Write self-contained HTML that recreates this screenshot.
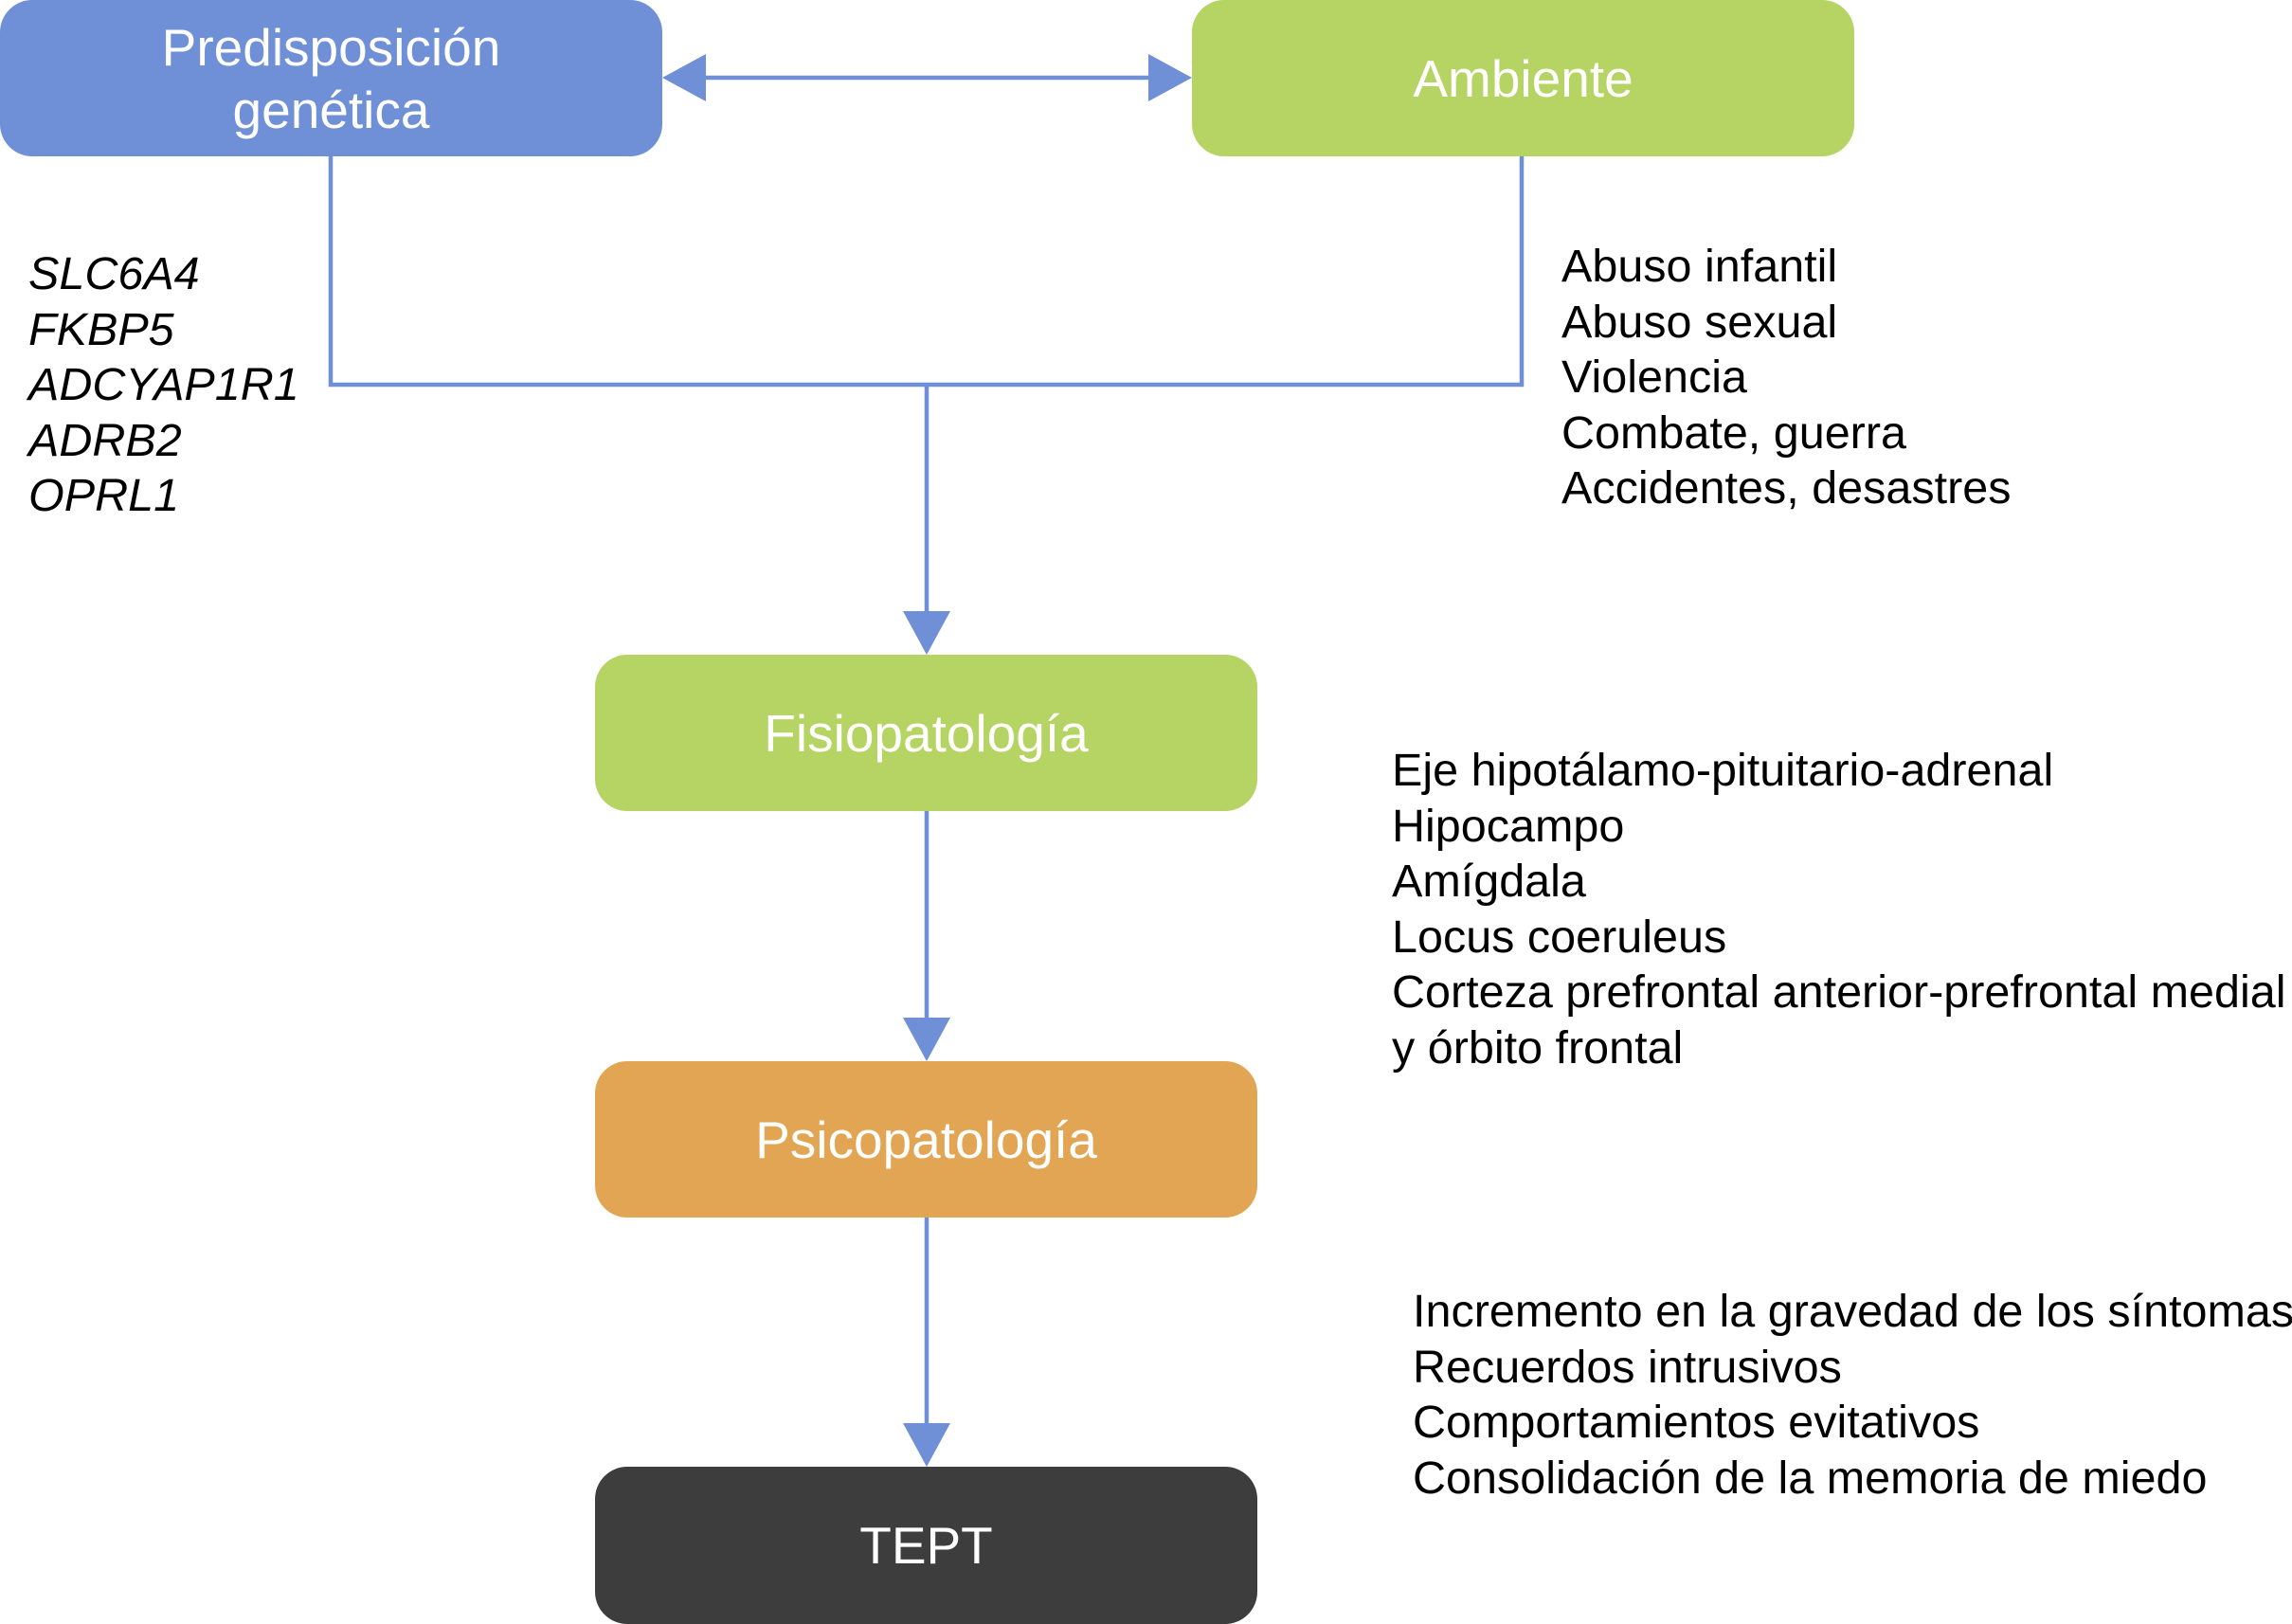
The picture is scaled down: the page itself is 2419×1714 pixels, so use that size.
<!DOCTYPE html>
<html><head><meta charset="utf-8"><style>
html,body{margin:0;padding:0;background:#fff;}
body{width:2419px;height:1714px;position:relative;overflow:hidden;font-family:"Liberation Sans",Arial,sans-serif;}
.box{position:absolute;border-radius:34px;color:#fff;display:flex;align-items:center;justify-content:center;text-align:center;font-size:55px;line-height:66px;}
.t{position:absolute;font-size:48.5px;line-height:58.6px;white-space:nowrap;color:#000;}
</style></head><body>
<svg width="2419" height="1714" style="position:absolute;left:0;top:0">
<g stroke="#6f8fd6" stroke-width="4.5" fill="none">
<line x1="745" y1="82" x2="1212" y2="82"/>
<polyline points="349,165 349,406 1606,406 1606,165"/>
<line x1="978" y1="406" x2="978" y2="648"/>
<line x1="978" y1="856" x2="978" y2="1077"/>
<line x1="978" y1="1285" x2="978" y2="1505"/>
</g>
<g fill="#6f8fd6">
<polygon points="699,82 745,57 745,107"/>
<polygon points="1258,82 1212,57 1212,107"/>
<polygon points="978,691 953,645 1003,645"/>
<polygon points="978,1120 953,1074 1003,1074"/>
<polygon points="978,1548 953,1502 1003,1502"/>
</g>
</svg>
<div class="box" style="left:0;top:0;width:699px;height:165px;background:#6f8fd6;">Predisposición<br>genética</div>
<div class="box" style="left:1258px;top:0;width:699px;height:165px;background:#b5d463;">Ambiente</div>
<div class="box" style="left:628px;top:691px;width:699px;height:165px;background:#b5d463;">Fisiopatología</div>
<div class="box" style="left:628px;top:1120px;width:699px;height:165px;background:#e2a553;">Psicopatología</div>
<div class="box" style="left:628px;top:1548px;width:699px;height:166px;background:#3d3d3d;">TEPT</div>
<div class="t" style="left:30px;top:260px;font-style:italic;">SLC6A4<br>FKBP5<br>ADCYAP1R1<br>ADRB2<br>OPRL1</div>
<div class="t" style="left:1648px;top:252px;">Abuso infantil<br>Abuso sexual<br>Violencia<br>Combate, guerra<br>Accidentes, desastres</div>
<div class="t" style="left:1469px;top:784px;">Eje hipotálamo-pituitario-adrenal<br>Hipocampo<br>Amígdala<br>Locus coeruleus<br>Corteza prefrontal anterior-prefrontal medial<br>y órbito frontal</div>
<div class="t" style="left:1491px;top:1355px;">Incremento en la gravedad de los síntomas<br>Recuerdos intrusivos<br>Comportamientos evitativos<br>Consolidación de la memoria de miedo</div>
</body></html>
